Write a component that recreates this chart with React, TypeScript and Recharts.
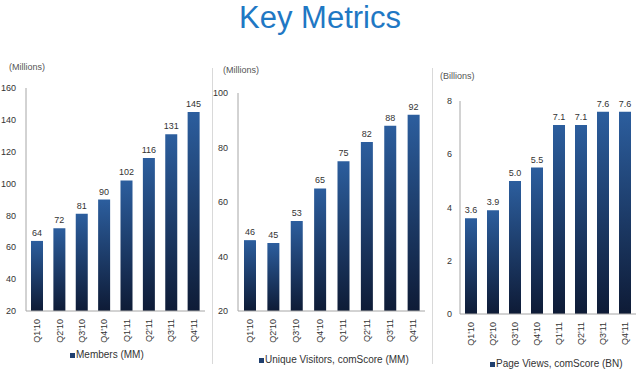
import { BarChart, Bar, XAxis, YAxis, LabelList } from "recharts";

const quarters = ["Q1'10", "Q2'10", "Q3'10", "Q4'10", "Q1'11", "Q2'11", "Q3'11", "Q4'11"];
const members = [64, 72, 81, 90, 102, 116, 131, 145];
const visitors = [46, 45, 53, 65, 75, 82, 88, 92];
const pageViews = [3.6, 3.9, 5.0, 5.5, 7.1, 7.1, 7.6, 7.6];

const membersTicks = [20, 40, 60, 80, 100, 120, 140, 160];
const visitorsTicks = [20, 40, 60, 80, 100];
const pageViewsTicks = [0, 2, 4, 6, 8];

const FONT = "'Liberation Sans', Arial, sans-serif";
const AXIS = "#a6a6a6";
const TEXT = "#333333";

const RotTick = (props: any) => {
  const { x, y, payload } = props;
  return (
    <text
      x={x}
      y={y}
      transform={`rotate(-90 ${x} ${y})`}
      textAnchor="end"
      dominantBaseline="central"
      fontSize={9}
      fill={TEXT}
      fontFamily={FONT}
    >
      {payload.value}
    </text>
  );
};

interface PanelProps {
  id: string;
  values: number[];
  ticks: number[];
  width: number;
  height: number;
  top: number;
  bottom: number;
  yWidth: number;
  right: number;
  tickMargin: number;
  decimals?: number;
}

function Panel({ id, values, ticks, width, height, top, bottom, yWidth, right, tickMargin, decimals }: PanelProps) {
  const data = quarters.map((q, i) => ({ q, v: values[i] }));
  return (
    <BarChart width={width} height={height} data={data} margin={{ top, right, left: 0, bottom: 0 }}>
      <defs>
        <linearGradient id={id} x1="0" y1="0" x2="0" y2="1">
          <stop offset="0%" stopColor="#2c5e9e" />
          <stop offset="100%" stopColor="#0e1b36" />
        </linearGradient>
      </defs>
      <XAxis
        dataKey="q"
        height={bottom}
        tick={<RotTick />}
        tickLine={false}
        axisLine={{ stroke: AXIS }}
        interval={0}
      />
      <YAxis
        width={yWidth}
        domain={[ticks[0], ticks[ticks.length - 1]]}
        ticks={ticks}
        tickLine={false}
        axisLine={{ stroke: AXIS }}
        tickMargin={tickMargin}
        tick={{ fontSize: 9, fill: TEXT, fontFamily: FONT }}
      />
      <Bar dataKey="v" fill={`url(#${id})`} barSize={12} isAnimationActive={false}>
        <LabelList
          dataKey="v"
          position="top"
          offset={5}
          fontSize={9}
          fill={TEXT}
          fontFamily={FONT}
          formatter={(v: any) => (decimals ? Number(v).toFixed(decimals) : v)}
        />
      </Bar>
    </BarChart>
  );
}

const legendStyle = (left: number, top: number): React.CSSProperties => ({
  position: "absolute",
  left,
  top,
  fontSize: 10,
  color: TEXT,
  fontFamily: FONT,
  display: "flex",
  alignItems: "center",
  whiteSpace: "nowrap",
  lineHeight: "12px",
});

const Swatch = () => (
  <span style={{ display: "inline-block", width: 5, height: 5, background: "#1f3f6e", marginRight: 1 }} />
);

const unitStyle = (left: number, top: number): React.CSSProperties => ({
  position: "absolute",
  left,
  top,
  fontSize: 9,
  color: "#555",
  fontFamily: FONT,
  lineHeight: "10px",
});

export default function App() {
  return (
    <div style={{ position: "absolute", left: 0, top: 0, width: 640, height: 372, background: "#fff", overflow: "hidden" }}>
      <div
        style={{
          position: "absolute",
          left: 0,
          width: 640,
          top: 1,
          textAlign: "center",
          fontFamily: FONT,
          fontSize: 31,
          color: "#1f78c4",
          lineHeight: "34px",
        }}
      >
        Key Metrics
      </div>

      <div style={{ position: "absolute", left: 212, top: 68, width: 1, height: 296, background: "#d9d9d9" }} />
      <div style={{ position: "absolute", left: 432, top: 68, width: 1, height: 296, background: "#d9d9d9" }} />

      <div style={unitStyle(9, 62)}>(Millions)</div>
      <div style={unitStyle(223, 65)}>(Millions)</div>
      <div style={unitStyle(440, 71)}>(Billions)</div>

      <div style={{ position: "absolute", left: 0, top: 0 }}>
        <Panel id="g1" values={members} ticks={membersTicks} width={212} height={372} top={88} bottom={61} yWidth={26} right={7} tickMargin={4} />
      </div>
      <div style={{ position: "absolute", left: 212, top: 0 }}>
        <Panel id="g2" values={visitors} ticks={visitorsTicks} width={220} height={372} top={93} bottom={61} yWidth={26} right={7} tickMargin={4} />
      </div>
      <div style={{ position: "absolute", left: 432, top: 0 }}>
        <Panel id="g3" values={pageViews} ticks={pageViewsTicks} width={208} height={372} top={101} bottom={58} yWidth={28} right={4} tickMargin={2} decimals={1} />
      </div>

      <div style={legendStyle(70, 349)}>
        <Swatch />
        Members (MM)
      </div>
      <div style={legendStyle(259, 354)}>
        <Swatch />
        Unique Visitors, comScore (MM)
      </div>
      <div style={legendStyle(490, 358)}>
        <Swatch />
        Page Views, comScore (BN)
      </div>
    </div>
  );
}
